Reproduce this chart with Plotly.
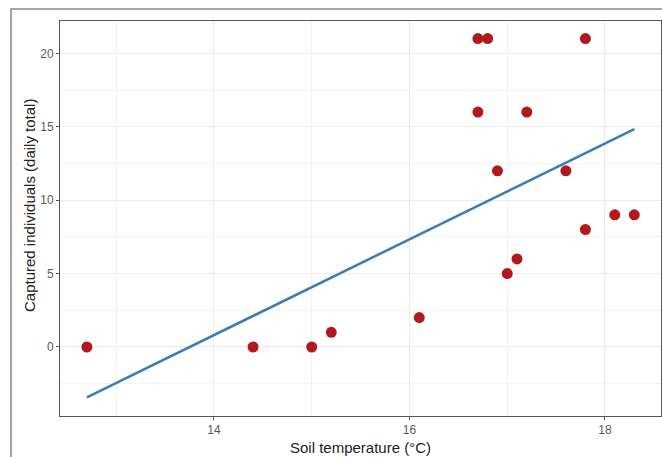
import plotly.graph_objects as go

temp_c = [12.7, 14.4, 15.0, 15.2, 16.1, 16.7, 16.8, 17.8, 16.7, 17.2, 16.9, 17.6, 17.8, 18.1, 18.3, 17.0, 17.1]
captured = [0, 0, 0, 1, 2, 21, 21, 21, 16, 16, 12, 12, 8, 9, 9, 5, 6]

# Fitted line endpoints
fit_x = [12.7, 18.3]
fit_y = [-3.43, 14.83]

x_ticks = [14, 16, 18]
y_ticks = [0, 5, 10, 15, 20]

fig = go.Figure()
fig.add_trace(go.Scatter(x=temp_c, y=captured, mode="markers",
                         marker=dict(color="#B2191B", size=11, line=dict(width=0)),
                         showlegend=False))
fig.add_trace(go.Scatter(x=fit_x, y=fit_y, mode="lines",
                         line=dict(color="#3C7CB4", width=2.5), showlegend=False))

axis_common = dict(showline=True, mirror=True, linecolor="#555555", linewidth=1,
                   ticks="outside", ticklen=3, tickcolor="#555555",
                   tickfont=dict(family="Liberation Sans, Arial", size=12, color="#5a5a5a"),
                   gridcolor="#EBEBEB", gridwidth=1, zeroline=False, automargin=False)

fig.update_layout(
    width=662, height=457,
    margin=dict(l=60, r=1, t=21, b=41),
    paper_bgcolor="white", plot_bgcolor="white",
    font=dict(family="Liberation Sans, Arial", color="#222222"),
    xaxis=dict(range=[12.425, 18.573], tickvals=x_ticks,
               minor=dict(tickvals=[13, 15, 17], showgrid=True, gridcolor="#F3F3F3", ticks=""),
               **axis_common),
    yaxis=dict(range=[-4.7, 22.2], tickvals=y_ticks,
               minor=dict(tickvals=[-2.5, 2.5, 7.5, 12.5, 17.5], showgrid=True, gridcolor="#F3F3F3", ticks=""),
               **axis_common),
)

fig.add_annotation(text="Soil temperature (°C)", xref="paper", yref="paper",
                   x=(360 - 60) / 601, y=(416 - 447) / 395, xanchor="center", yanchor="middle",
                   showarrow=False, font=dict(size=15, color="#222222"))
fig.add_annotation(text="Captured individuals (daily total)", xref="paper", yref="paper",
                   x=(29 - 60) / 601, y=(416 - 206) / 395, xanchor="center", yanchor="middle", textangle=-90,
                   showarrow=False, font=dict(size=15, color="#222222"))

# outer frame
fig.add_shape(type="rect", xref="paper", yref="paper",
              x0=-0.0815, y0=-0.3, x1=1.2, y1=1.0304,
              line=dict(color="#888888", width=1.5), fillcolor="rgba(0,0,0,0)", layer="above")

fig.write_html("out.html", config={"displayModeBar": False},
               post_script="document.body.style.margin='0';")
